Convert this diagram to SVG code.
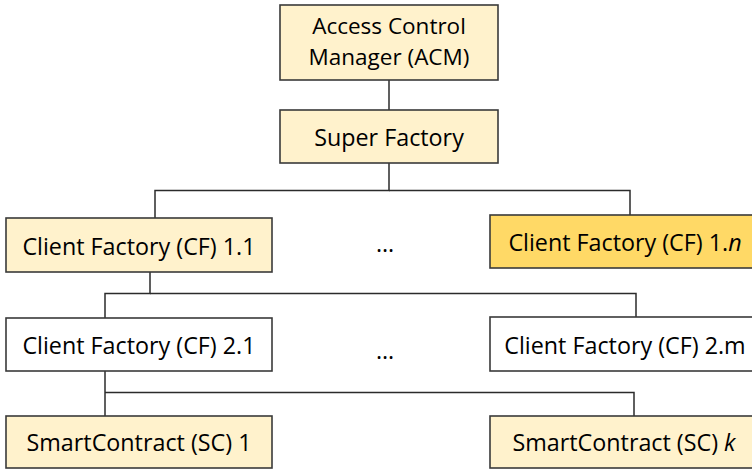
<svg xmlns="http://www.w3.org/2000/svg" width="752" height="470" viewBox="0 0 752 470">
<style>
.box{stroke:#3a3a3a;stroke-width:1.6}
.lt{fill:#FFF2CC}
.gd{fill:#FFD966}
.wh{fill:#FFFFFF}
text{font-family:"Open Sans","Noto Sans",sans-serif;font-size:23.3px;fill:#000;text-anchor:middle}
.acm{font-size:22.5px}
.conn{stroke:#2b2b2b;stroke-width:1.5;fill:none}
</style>
<rect width="752" height="470" fill="#fff"/>
<g id="connectors">
<path class="conn" d="M389 80V110"/>
<path class="conn" d="M389 163V190.5H155V218"/>
<path class="conn" d="M389 190.5H630V215"/>
<path class="conn" d="M150 272V293.5H105V318"/>
<path class="conn" d="M150 293.5H636V317"/>
<path class="conn" d="M105 371V416"/>
<path class="conn" d="M105 392.5H634V416"/>
</g>
<g id="acm"><rect class="box lt" x="280" y="5" width="218" height="75"/><text class="acm" x="389" y="34">Access Control</text><text class="acm" x="389" y="65">Manager (ACM)</text></g>
<g id="super"><rect class="box lt" x="280" y="110" width="218" height="53"/><text x="389" y="146">Super Factory</text></g>
<g id="cf11"><rect class="box lt" x="6" y="218" width="266" height="54"/><text x="139" y="254.5">Client Factory (CF) 1.1</text></g>
<g id="cf1n"><rect class="box gd" x="490" y="215" width="270" height="53"/><text x="625" y="250.5">Client Factory (CF) 1.<tspan font-style="italic">n</tspan></text></g>
<g id="dots1"><text x="385" y="252">…</text></g>
<g id="cf21"><rect class="box wh" x="6" y="318" width="266" height="53"/><text x="139" y="353.5">Client Factory (CF) 2.1</text></g>
<g id="cf2m"><rect class="box wh" x="490" y="317" width="270" height="54"/><text x="625" y="353.5">Client Factory (CF) 2.m</text></g>
<g id="dots2"><text x="385" y="359">…</text></g>
<g id="sc1"><rect class="box lt" x="6" y="416" width="266" height="52"/><text x="139" y="450.5">SmartContract (SC) 1</text></g>
<g id="sck"><rect class="box lt" x="490" y="416" width="270" height="52"/><text x="624" y="450.5">SmartContract (SC) <tspan font-style="italic">k</tspan></text></g>
</svg>
